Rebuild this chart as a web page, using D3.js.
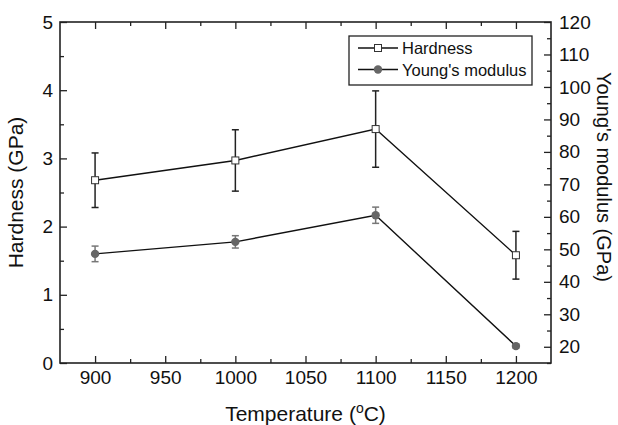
<!DOCTYPE html>
<html>
<head>
<meta charset="utf-8">
<script src="https://cdn.jsdelivr.net/npm/d3@7"></script>
<style>
  body { margin: 0; background: #fff; }
  text { font-family: Arial, "Liberation Sans", sans-serif; }
  .axis path, .axis line { stroke: #222; }
</style>
</head>
<body>
<div class="container"></div>
<script>
const WIDTH = 618;
const HEIGHT = 425;
const LEFT = 60, RIGHT = 551, TOP = 22, BOTTOM = 363;

// data
const temperatures = [900, 1000, 1100, 1200];
const hardness = [2.68, 2.97, 3.43, 1.58];
const hardnessErr = [0.40, 0.45, 0.56, 0.35];
const modulus = [48.6, 52.3, 60.5, 20.2];
const modulusErr = [2.4, 1.9, 2.5, 0.6];

const xTicks = [900, 950, 1000, 1050, 1100, 1150, 1200];
const xMinor = [925, 975, 1025, 1075, 1125, 1175];
const hardTicks = [0, 1, 2, 3, 4, 5];
const hardMinor = [0.5, 1.5, 2.5, 3.5, 4.5];
const modTicks = [20, 30, 40, 50, 60, 70, 80, 90, 100, 110, 120];
const modMinor = [15, 25, 35, 45, 55, 65, 75, 85, 95, 105, 115];

const seriesNames = ["Hardness", "Young's modulus"];

var translate = function(x, y){
    return "translate(" + x + "," + y + ")";
};

var plain = function(d){ return String(d); };

var xScale = d3.scaleLinear().domain([875, 1225]).range([LEFT, RIGHT]);
var yLeft = d3.scaleLinear().domain([0, 5]).range([BOTTOM, TOP]);
var yRight = d3.scaleLinear().domain([15, 120]).range([BOTTOM, TOP]);

var svg = d3.select('.container').append('svg')
    .attr('width', WIDTH)
    .attr('height', HEIGHT);

var drawAxis = function(axis, x, y, fontSize){
    var g = svg.append('g').attr('class', 'axis')
        .attr('transform', translate(x, y))
        .call(axis);
    g.select('.domain').remove();
    g.selectAll('line').attr('stroke-width', 1.3);
    g.selectAll('text').attr('font-size', fontSize).attr('fill', '#111')
        .attr('font-family', 'Arial, "Liberation Sans", sans-serif');
    return g;
};

// bottom + top
drawAxis(d3.axisBottom(xScale).tickValues(xTicks).tickFormat(plain).tickSize(-7).tickPadding(8), 0, BOTTOM, 19);
drawAxis(d3.axisBottom(xScale).tickValues(xMinor).tickSize(-4).tickFormat(''), 0, BOTTOM, 19);
drawAxis(d3.axisTop(xScale).tickValues(xTicks).tickSize(-7).tickFormat(''), 0, TOP, 19);
drawAxis(d3.axisTop(xScale).tickValues(xMinor).tickSize(-4).tickFormat(''), 0, TOP, 19);
// left
drawAxis(d3.axisLeft(yLeft).tickValues(hardTicks).tickFormat(plain).tickSize(-7).tickPadding(7), LEFT, 0, 19);
drawAxis(d3.axisLeft(yLeft).tickValues(hardMinor).tickSize(-4).tickFormat(''), LEFT, 0, 19);
// right
drawAxis(d3.axisRight(yRight).tickValues(modTicks).tickFormat(plain).tickSize(-7).tickPadding(8), RIGHT, 0, 19);
drawAxis(d3.axisRight(yRight).tickValues(modMinor).tickSize(-4).tickFormat(''), RIGHT, 0, 19);

// frame
svg.append('rect')
    .attr('x', LEFT).attr('y', TOP)
    .attr('width', RIGHT - LEFT).attr('height', BOTTOM - TOP)
    .attr('fill', 'none').attr('stroke', '#222').attr('stroke-width', 1.6);

// axis titles
svg.append('text')
    .attr('x', xScale(1050)).attr('y', 421)
    .attr('text-anchor', 'middle').attr('font-size', 21).attr('fill', '#111')
    .html('Temperature (<tspan baseline-shift="super" font-size="14">o</tspan>C)');

svg.append('text')
    .attr('transform', translate(23, (TOP + BOTTOM) / 2) + ' rotate(-90)')
    .attr('text-anchor', 'middle').attr('font-size', 21).attr('fill', '#111')
    .text('Hardness (GPa)');

svg.append('text')
    .attr('transform', translate(597, 177) + ' rotate(90)')
    .attr('text-anchor', 'middle').attr('font-size', 20).attr('fill', '#111')
    .text("Young's modulus (GPa)");

var hardPoints = temperatures.map(function(t, i){ return {x: t, y: hardness[i], e: hardnessErr[i]}; });
var modPoints = temperatures.map(function(t, i){ return {x: t, y: modulus[i], e: modulusErr[i]}; });

var drawErrors = function(points, yScale, color){
    var g = svg.append('g').attr('stroke', color).attr('stroke-width', 1.5);
    g.selectAll('.v').data(points).enter().append('line')
        .attr('x1', function(d){ return xScale(d.x); })
        .attr('x2', function(d){ return xScale(d.x); })
        .attr('y1', function(d){ return yScale(d.y - d.e); })
        .attr('y2', function(d){ return yScale(d.y + d.e); });
    [-1, 1].forEach(function(s){
        g.selectAll('.c' + s).data(points).enter().append('line')
            .attr('x1', function(d){ return xScale(d.x) - 3.5; })
            .attr('x2', function(d){ return xScale(d.x) + 3.5; })
            .attr('y1', function(d){ return yScale(d.y + s * d.e); })
            .attr('y2', function(d){ return yScale(d.y + s * d.e); });
    });
};

var drawLine = function(points, yScale){
    var line = d3.line()
        .x(function(d){ return xScale(d.x); })
        .y(function(d){ return yScale(d.y); });
    svg.append('path').datum(points)
        .attr('d', line)
        .attr('fill', 'none').attr('stroke', '#111').attr('stroke-width', 1.4);
};

drawErrors(hardPoints, yLeft, '#222');
drawErrors(modPoints, yRight, '#777');
drawLine(hardPoints, yLeft);
drawLine(modPoints, yRight);

svg.append('g').selectAll('rect').data(hardPoints).enter().append('rect')
    .attr('x', function(d){ return xScale(d.x) - 3.5; })
    .attr('y', function(d){ return yLeft(d.y) - 3.5; })
    .attr('width', 7).attr('height', 7)
    .attr('fill', '#fff').attr('stroke', '#333').attr('stroke-width', 1);

svg.append('g').selectAll('circle').data(modPoints).enter().append('circle')
    .attr('cx', function(d){ return xScale(d.x); })
    .attr('cy', function(d){ return yRight(d.y); })
    .attr('r', 4.2)
    .attr('fill', '#666');

// legend
var legend = svg.append('g');
legend.append('rect')
    .attr('x', 349).attr('y', 36).attr('width', 183).attr('height', 49)
    .attr('fill', '#fff').attr('stroke', '#222').attr('stroke-width', 1.3);

seriesNames.forEach(function(name, i){
    var y = 48 + i * 21.5;
    legend.append('line')
        .attr('x1', 358).attr('x2', 398).attr('y1', y).attr('y2', y)
        .attr('stroke', '#111').attr('stroke-width', 1.4);
    if (i === 0) {
        legend.append('rect')
            .attr('x', 374.5).attr('y', y - 3.5).attr('width', 7).attr('height', 7)
            .attr('fill', '#fff').attr('stroke', '#333');
    } else {
        legend.append('circle').attr('cx', 378).attr('cy', y).attr('r', 4.2).attr('fill', '#666');
    }
    legend.append('text')
        .attr('x', 402).attr('y', y + 6)
        .attr('font-size', 16.5).attr('fill', '#111')
        .text(name);
});
</script>
</body>
</html>
